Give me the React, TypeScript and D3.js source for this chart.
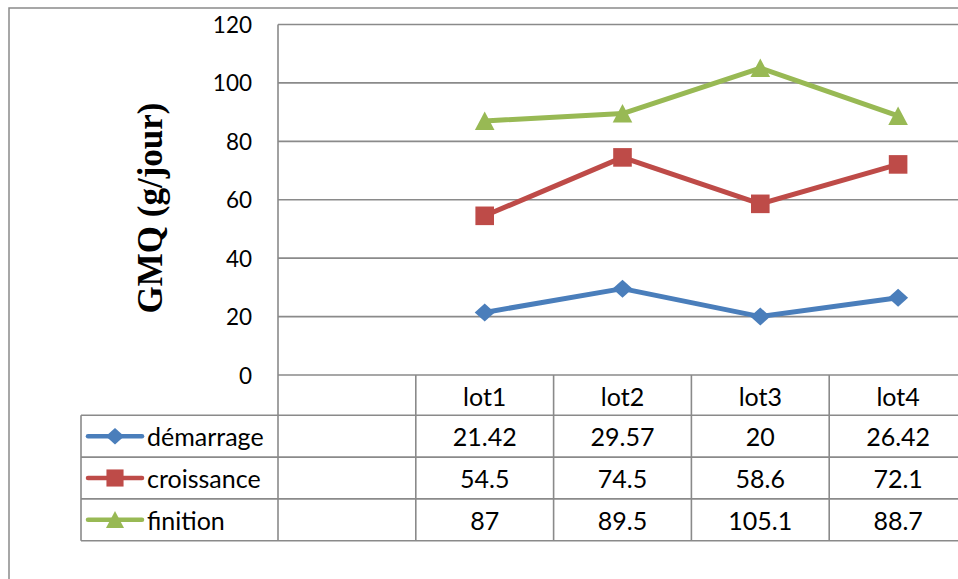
import React from "react";
import * as d3 from "d3";

// Categories of the x axis; the first slot is an empty category column.
const categories = ["", "lot1", "lot2", "lot3", "lot4"];
const seriesNames = ["démarrage", "croissance", "finition"];
const demarrage = [null, 21.42, 29.57, 20, 26.42];
const croissance = [null, 54.5, 74.5, 58.6, 72.1];
const finition = [null, 87, 89.5, 105.1, 88.7];
const yTicks = [0, 20, 40, 60, 80, 100, 120];
const seriesColors = ["#4A7EBB", "#BE4B48", "#98B954"];
const seriesMarkers = ["diamond", "square", "triangle"];

const W = 958;
const H = 579;
const plotLeft = 278;
const plotTop = 24.5;
const plotBottom = 375;
const catWidth = 137.8;
const tableLeft = 81;
const headerBottom = 415.3;
const rowH = 41.8;
const grid = "#8a8a8a";
const font = "Lato, 'Open Sans', sans-serif";

// Marker outlines centred on their bounding box.
function markerPath(kind: string) {
  const p = d3.path();
  if (kind === "diamond") {
    p.moveTo(0, -9);
    p.lineTo(10, 0);
    p.lineTo(0, 9);
    p.lineTo(-10, 0);
  } else if (kind === "square") {
    p.rect(-9.3, -9.3, 18.6, 18.6);
  } else {
    p.moveTo(0, -9.5);
    p.lineTo(9.8, 9);
    p.lineTo(-9.8, 9);
  }
  p.closePath();
  return p.toString();
}

export default function App() {
  const values = [demarrage, croissance, finition];
  const x = d3
    .scaleBand<string>()
    .domain(categories.map((c, i) => String(i)))
    .range([plotLeft, plotLeft + catWidth * categories.length]);
  const y = d3.scaleLinear().domain([0, 120]).range([plotBottom, plotTop]);
  const cx = (i: number) => (x(String(i)) as number) + x.bandwidth() / 2;

  const line = d3
    .line<number | null>()
    .defined((d) => d !== null)
    .x((_, i) => cx(i))
    .y((d) => y(d as number));

  const right = W + 40;
  const tableFont = 25;

  return (
    <div style={{ position: "fixed", left: 0, top: 0 }}>
      <svg width={W} height={H} style={{ display: "block", background: "#fff" }}>
        {/* chart frame */}
        <rect x={9} y={8} width={W + 20} height={H + 20} fill="#fff" stroke="#8a8a8a" strokeWidth={1.5} />

        {/* horizontal gridlines and value labels */}
        {yTicks.map((t) => (
          <g key={t}>
            <line x1={plotLeft} x2={right} y1={y(t)} y2={y(t)} stroke={grid} strokeWidth={1.6} />
            <text
              x={252}
              y={y(t)}
              textAnchor="end"
              dominantBaseline="central"
              fontFamily={font}
              fontSize={22.5}
              fill="#000"
            >
              {t}
            </text>
          </g>
        ))}
        <line x1={plotLeft} x2={plotLeft} y1={plotTop} y2={headerBottom + rowH * 3} stroke={grid} strokeWidth={1.6} />

        {/* axis title */}
        <text
          transform={`translate(150,208) rotate(-90)`}
          textAnchor="middle"
          dominantBaseline="central"
          fontFamily="'Liberation Serif', 'Times New Roman', serif"
          fontWeight="bold"
          fontSize={35}
          fill="#000"
        >
          GMQ (g/jour)
        </text>

        {/* data table grid */}
        {[0, 1, 2, 3].map((r) => (
          <line
            key={"h" + r}
            x1={tableLeft}
            x2={right}
            y1={headerBottom + rowH * r}
            y2={headerBottom + rowH * r}
            stroke={grid}
            strokeWidth={1.6}
          />
        ))}
        <line x1={tableLeft} x2={tableLeft} y1={headerBottom} y2={headerBottom + rowH * 3} stroke={grid} strokeWidth={1.6} />
        {categories.map((c, i) =>
          i === 0 ? null : (
            <line
              key={"v" + i}
              x1={x(String(i)) as number}
              x2={x(String(i)) as number}
              y1={plotBottom}
              y2={headerBottom + rowH * 3}
              stroke={grid}
              strokeWidth={1.6}
            />
          )
        )}
        <line
          x1={plotLeft + catWidth * categories.length}
          x2={plotLeft + catWidth * categories.length}
          y1={plotBottom}
          y2={headerBottom + rowH * 3}
          stroke={grid}
          strokeWidth={1.6}
        />

        {/* category header */}
        {categories.map((c, i) => (
          <text
            key={"c" + i}
            x={cx(i)}
            y={(plotBottom + headerBottom) / 2 + 1}
            textAnchor="middle"
            dominantBaseline="central"
            fontFamily={font}
            fontSize={tableFont}
          >
            {c}
          </text>
        ))}

        {/* table rows: legend key + values */}
        {values.map((vals, s) => {
          const rowMid = headerBottom + rowH * s + rowH / 2;
          return (
            <g key={"row" + s}>
              <line x1={88} x2={142} y1={rowMid} y2={rowMid} stroke={seriesColors[s]} strokeWidth={4.5} strokeLinecap="round" />
              <path
                d={markerPath(seriesMarkers[s])}
                transform={`translate(115,${rowMid}) scale(0.92)`}
                fill={seriesColors[s]}
              />
              <text x={147} y={rowMid} dominantBaseline="central" fontFamily={font} fontSize={tableFont}>
                {seriesNames[s]}
              </text>
              {vals.map((v, i) =>
                v === null ? null : (
                  <text
                    key={i}
                    x={cx(i)}
                    y={rowMid}
                    textAnchor="middle"
                    dominantBaseline="central"
                    fontFamily={font}
                    fontSize={tableFont}
                  >
                    {v}
                  </text>
                )
              )}
            </g>
          );
        })}

        {/* series lines and markers */}
        {values.map((vals, s) => (
          <g key={"s" + s}>
            <path d={line(vals) as string} fill="none" stroke={seriesColors[s]} strokeWidth={5} strokeLinejoin="round" />
            {vals.map((v, i) =>
              v === null ? null : (
                <path
                  key={i}
                  d={markerPath(seriesMarkers[s])}
                  transform={`translate(${cx(i)},${y(v)})`}
                  fill={seriesColors[s]}
                />
              )
            )}
          </g>
        ))}
      </svg>
    </div>
  );
}
